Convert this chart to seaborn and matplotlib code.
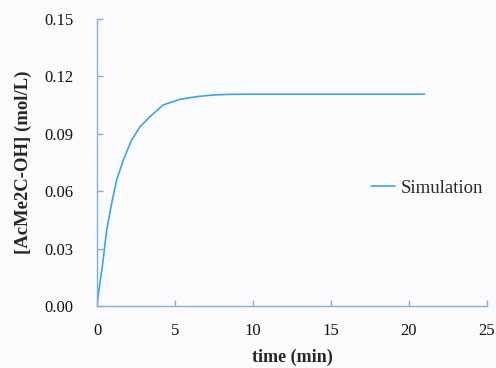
import matplotlib
matplotlib.use("Agg")
import matplotlib.pyplot as plt
import seaborn as sns
import pandas as pd

time_min = [0.0, 0.15, 0.34, 0.62, 0.94, 1.26, 1.69, 2.22, 2.76, 3.40, 4.25,
            5.32, 6.39, 7.46, 8.5, 10.0, 12.0, 14.0, 16.0, 18.0, 20.0, 21.0]
conc = [0.0, 0.010, 0.0205, 0.0397, 0.0537, 0.0659, 0.0763, 0.0868, 0.0937,
        0.0990, 0.1051, 0.1080, 0.1094, 0.1103, 0.1106, 0.1107, 0.1107,
        0.1107, 0.1107, 0.1107, 0.1107, 0.1107]
series_name = "Simulation"
xticks = [0, 5, 10, 15, 20, 25]
yticks = [0.00, 0.03, 0.06, 0.09, 0.12, 0.15]

df = pd.DataFrame({"time": time_min, "conc": conc, "series": series_name})

sns.set_style("white")
plt.rcParams['font.family'] = ['Liberation Serif', 'DejaVu Serif']

bg = "#fbfbfd"
fig = plt.figure(figsize=(4.96, 3.68), dpi=100, facecolor=bg)
ax = fig.add_axes([0.1956, 0.1685, 0.786, 0.78])
ax.set_facecolor(bg)

sns.lineplot(data=df, x="time", y="conc", hue="series", palette=["#3aa6e6"],
             linewidth=1.2, ax=ax, sort=False)

spine_c = "#7fb2d4"
for s in ["top", "right"]:
    ax.spines[s].set_visible(False)
for s in ["left", "bottom"]:
    ax.spines[s].set_color(spine_c)
    ax.spines[s].set_linewidth(1.0)

ax.set_xlim(0, 25)
ax.set_ylim(0, 0.15)
ax.set_xticks(xticks)
ax.set_yticks(yticks)
ax.set_xticklabels([str(v) for v in xticks])
ax.set_yticklabels([f"{v:.2f}" for v in yticks])
ax.tick_params(axis="both", direction="in", length=4, width=1.0, color=spine_c,
               labelsize=12, labelcolor="#111111", bottom=True, left=True)
ax.tick_params(axis="y", pad=17)
ax.tick_params(axis="x", pad=12)

ax.set_xlabel("time (min)", fontsize=13, fontweight="bold", labelpad=7.5)
ax.set_ylabel("[AcMe2C-OH] (mol/L)", fontsize=13.5, fontweight="bold", labelpad=9)

leg = ax.legend(loc="center left", bbox_to_anchor=(0.703, 0.41), frameon=False,
                fontsize=13.5, handlelength=1.3, handletextpad=0.3, title=None,
                borderaxespad=0, borderpad=0)

fig.savefig("out.png", dpi=100, facecolor=bg)
